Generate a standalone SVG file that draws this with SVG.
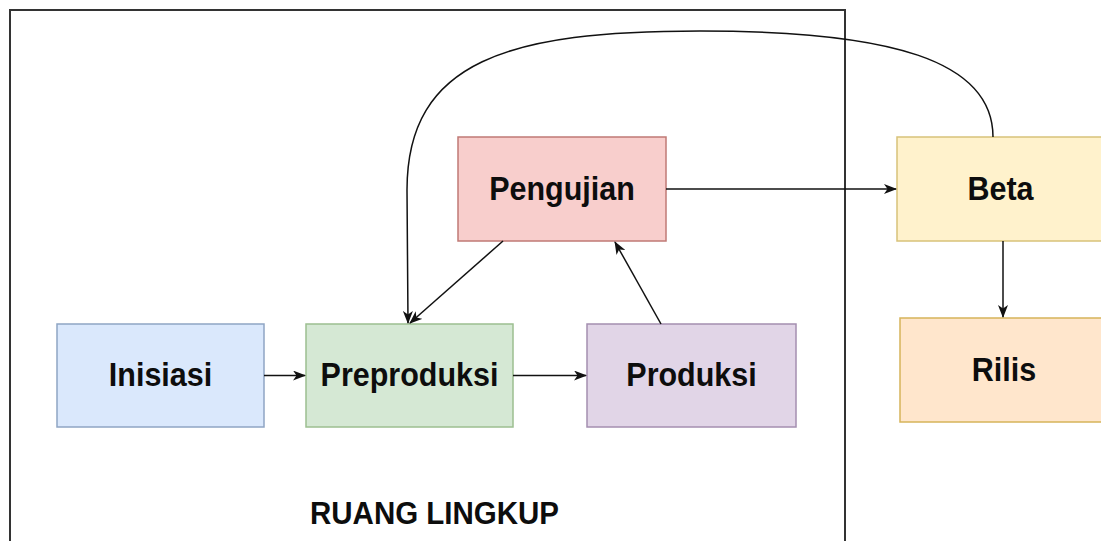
<svg xmlns="http://www.w3.org/2000/svg" width="1101" height="541" viewBox="0 0 1101 541">
  <style>
    .lbl { font-family: "Liberation Sans", Arial, sans-serif; font-weight: bold; font-size: 30.5px; fill: #0d0d0d; text-anchor: middle; }
    .edge { fill: none; stroke: #111; stroke-width: 1.5; }
    .box { stroke-width: 1.5; }
  </style>
  <defs>
    <marker id="arr" viewBox="0 0 13 10" refX="12" refY="5" markerWidth="13" markerHeight="10" markerUnits="userSpaceOnUse" orient="auto">
      <path d="M0,0 L13,5 L0,10 L3.5,5 z" fill="#111"/>
    </marker>
  </defs>
  <rect width="1101" height="541" fill="#fff"/>

  <g id="ruang-lingkup">
    <rect x="10" y="10" width="835" height="545" fill="none" stroke="#333" stroke-width="2"/>
    <text class="lbl" transform="translate(434.5 524) scale(1 1.05)" style="font-size:29.5px">RUANG LINGKUP</text>
  </g>

  <g id="inisiasi">
    <rect class="box" x="57" y="324" width="207" height="103" fill="#dae8fc" stroke="#8fa5c4"/>
    <text class="lbl" transform="translate(160.5 386) scale(1 1.06)">Inisiasi</text>
  </g>
  <g id="preproduksi">
    <rect class="box" x="306" y="324" width="207" height="103" fill="#d5e8d4" stroke="#9cbf90"/>
    <text class="lbl" transform="translate(409.5 386) scale(1 1.06)">Preproduksi</text>
  </g>
  <g id="produksi">
    <rect class="box" x="587" y="324" width="209" height="103" fill="#e1d5e7" stroke="#a48eb0"/>
    <text class="lbl" transform="translate(691.5 386) scale(1 1.06)">Produksi</text>
  </g>
  <g id="pengujian">
    <rect class="box" x="458" y="137" width="208" height="104" fill="#f8cecc" stroke="#c07a76"/>
    <text class="lbl" transform="translate(562 200) scale(1 1.06)">Pengujian</text>
  </g>
  <g id="beta">
    <rect class="box" x="897" y="137" width="208" height="104" fill="#fff2cc" stroke="#d8c27a"/>
    <text class="lbl" transform="translate(1000.5 200) scale(1 1.06)">Beta</text>
  </g>
  <g id="rilis">
    <rect class="box" x="900" y="318" width="208" height="104" fill="#ffe6cc" stroke="#d6b45a"/>
    <text class="lbl" transform="translate(1004 381) scale(1 1.06)">Rilis</text>
  </g>

  <g id="connectors">
    <line class="edge" x1="264" y1="375.5" x2="305" y2="375.5" marker-end="url(#arr)"/>
    <line class="edge" x1="513" y1="375.5" x2="586" y2="375.5" marker-end="url(#arr)"/>
    <line class="edge" x1="661" y1="324" x2="615" y2="242" marker-end="url(#arr)"/>
    <line class="edge" x1="503" y1="241" x2="410" y2="323" marker-end="url(#arr)"/>
    <line class="edge" x1="666" y1="189" x2="896" y2="189" marker-end="url(#arr)"/>
    <line class="edge" x1="1003" y1="241" x2="1003" y2="317" marker-end="url(#arr)"/>
    <path class="edge" d="M 993 137 C 993 60, 890 31, 700 31 S 407 60, 407 190 L 408 323" marker-end="url(#arr)"/>
  </g>
</svg>
